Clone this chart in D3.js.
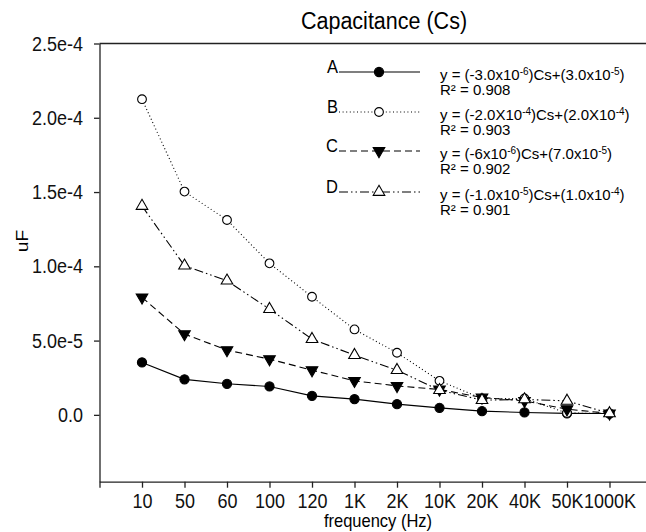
<!DOCTYPE html>
<html>
<head>
<meta charset="utf-8">
<script src="https://cdn.jsdelivr.net/npm/d3@7"></script>
<style>
    body { margin: 0; background: #fff; }
    svg { display: block; font-family: "Liberation Sans", Arial, sans-serif; }
    .axis path, .axis line { stroke: #222; stroke-width: 1.3; }
    .axis text { font-size: 18px; fill: #111; }
</style>
</head>
<body>
<div class="content"></div>
<script>
var width = 646
var height = 532

// data
var categories = ['10', '50', '60', '100', '120', '1K', '2K', '10K', '20K', '40K', '50K', '1000K']
var seriesA = [3.53e-5, 2.39e-5, 2.09e-5, 1.91e-5, 1.28e-5, 1.06e-5, 0.72e-5, 0.47e-5, 0.25e-5, 0.16e-5, 0.1e-5, 0.09e-5]
var seriesB = [2.125e-4, 1.503e-4, 1.312e-4, 1.02e-4, 7.95e-5, 5.75e-5, 4.18e-5, 2.29e-5, 1.1e-5, 1.1e-5, 0.12e-5, 0.1e-5]
var seriesC = [7.91e-5, 5.44e-5, 4.36e-5, 3.75e-5, 3.01e-5, 2.29e-5, 1.95e-5, 1.71e-5, 1.17e-5, 0.94e-5, 0.38e-5, 0.1e-5]
var seriesD = [1.406e-4, 1.004e-4, 9.03e-5, 7.12e-5, 5.1e-5, 4.02e-5, 3.01e-5, 1.66e-5, 0.99e-5, 1.04e-5, 0.94e-5, 0.1e-5]
var seriesNames = ['A', 'B', 'C', 'D']
var yTicks = [0, 5e-5, 1e-4, 1.5e-4, 2e-4, 2.5e-4]
var yTickLabels = ['0.0', '5.0e-5', '1.0e-4', '1.5e-4', '2.0e-4', '2.5e-4']
// equation pieces: [text, superscript, text, superscript, text]
var equations = [
    ['y = (-3.0x10', '-6', ')Cs+(3.0x10', '-5', ')'],
    ['y = (-2.0X10', '-4', ')Cs+(2.0X10', '-4', ')'],
    ['y = (-6x10', '-6', ')Cs+(7.0x10', '-5', ')'],
    ['y = (-1.0x10', '-5', ')Cs+(1.0x10', '-4', ')']
]
var rSquared = ['0.908', '0.903', '0.902', '0.901']

var styles = [
    { dash: null, shape: d3.symbolCircle, size: 66, fill: '#000', rotate: 0 },
    { dash: '1,2.6', shape: d3.symbolCircle, size: 60, fill: '#fff', rotate: 0 },
    { dash: '7,4', shape: d3.symbolTriangle, size: 58, fill: '#000', rotate: 180 },
    { dash: '9,3,1.5,3,1.5,3', shape: d3.symbolTriangle, size: 58, fill: '#fff', rotate: 0 }
]

var allSeries = [seriesA, seriesB, seriesC, seriesD]

// the original lettering is a little taller than it is wide
var stretchY = 1.13

var x = d3.scaleLinear()
    .domain([0, 13])
    .range([99.5, 652])

var y = d3.scaleLinear()
    .domain([-4.5e-5, 2.5e-4])
    .range([481.7, 43.5])

var svg = d3.select('.content').append('svg')
    .attr('width', width)
    .attr('height', height)

function label(px, py, txt, size, anchor) {
    return svg.append('text')
        .attr('transform', 'translate(' + px + ',' + py + ') scale(1,' + stretchY + ')')
        .attr('text-anchor', anchor || 'start')
        .style('font-size', size + 'px')
        .text(txt)
}

// top frame line
svg.append('line')
    .attr('x1', x(0)).attr('x2', x(13))
    .attr('y1', y(2.5e-4)).attr('y2', y(2.5e-4))
    .attr('stroke', '#222')
    .attr('stroke-width', 1.3)

svg.append('g')
    .attr('class', 'axis')
    .attr('transform', 'translate(' + x(0) + ',0)')
    .call(d3.axisLeft(y)
        .tickValues(yTicks)
        .tickFormat(function(d, i) { return yTickLabels[i] })
        .tickSizeInner(5.5)
        .tickSizeOuter(0)
        .tickPadding(11))
    .selectAll('text')
    .attr('transform', 'scale(1,' + stretchY + ')')

svg.append('g')
    .attr('class', 'axis')
    .attr('transform', 'translate(0,' + y(-4.5e-5) + ')')
    .call(d3.axisBottom(x)
        .tickValues(d3.range(0, 13))
        .tickFormat(function(d) { return d === 0 ? '' : categories[d - 1] })
        .tickSizeInner(6)
        .tickSizeOuter(0)
        .tickPadding(4.3))
    .selectAll('text')
    .attr('transform', 'scale(1,' + stretchY + ')')

// titles
label(384, 29, 'Capacitance (Cs)', 21.5, 'middle')
label(378, 527, 'frequency (Hz)', 16.5, 'middle')

svg.append('text')
    .attr('transform', 'translate(28,241) rotate(-90) scale(' + stretchY + ',1)')
    .attr('text-anchor', 'middle')
    .style('font-size', '17px')
    .text('uF')

var line = d3.line()
    .x(function(d, i) { return x(i + 1) })
    .y(function(d) { return y(d) })

function marker(g, s, px, py) {
    g.append('path')
        .attr('d', d3.symbol().type(s.shape).size(s.size)())
        .attr('transform', 'translate(' + px + ',' + py + ') rotate(' + s.rotate + ')')
        .attr('fill', s.fill)
        .attr('stroke', '#000')
        .attr('stroke-width', 1.1)
}

allSeries.forEach(function(values, k) {
    var s = styles[k]
    var g = svg.append('g').attr('class', 'series')
    g.append('path')
        .datum(values)
        .attr('d', line)
        .attr('fill', 'none')
        .attr('stroke', '#000')
        .attr('stroke-width', 1.1)
        .attr('stroke-dasharray', s.dash)
    values.forEach(function(v, i) {
        marker(g, s, x(i + 1), y(v))
    })
})

// legend
var legendY = [72, 112, 151, 192]
var legend = svg.append('g').attr('class', 'legend')

seriesNames.forEach(function(name, k) {
    var s = styles[k]
    var ly = legendY[k]
    label(338, ly + 1, name, 16.5, 'end')
    legend.append('line')
        .attr('x1', 339).attr('x2', 420)
        .attr('y1', ly).attr('y2', ly)
        .attr('stroke', '#000')
        .attr('stroke-width', 1.1)
        .attr('stroke-dasharray', s.dash)
    marker(legend, s, 379, ly)

    var eq = legend.append('text')
        .attr('x', 440)
        .attr('y', ly + 8)
        .style('font-size', '15px')
    equations[k].forEach(function(part, j) {
        if (j % 2 === 1) {
            eq.append('tspan')
                .attr('dy', -5.5)
                .style('font-size', '10px')
                .text(part)
        } else {
            eq.append('tspan')
                .attr('dy', j === 0 ? 0 : 5.5)
                .text(part)
        }
    })
    legend.append('text')
        .attr('x', 440)
        .attr('y', ly + 23)
        .style('font-size', '15px')
        .text('R\u00b2 = ' + rSquared[k])
})
</script>
</body>
</html>
